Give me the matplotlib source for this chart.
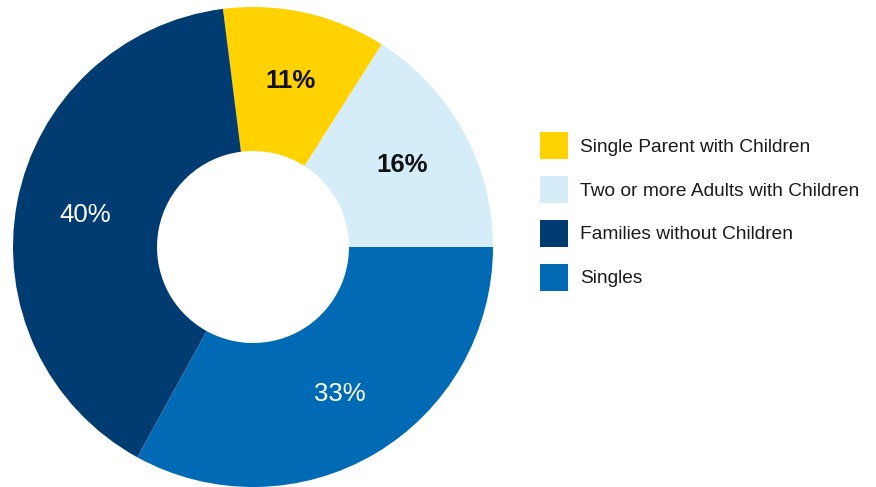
import matplotlib.pyplot as plt
from matplotlib.patches import Patch

plt.rcParams["font.family"] = ["Liberation Sans", "DejaVu Sans"]

# slices in drawing order (counter-clockwise from 3 o'clock)
categories = [
    "Two or more Adults with Children",
    "Single Parent with Children",
    "Families without Children",
    "Singles",
]
shares = [16, 11, 40, 33]
colors = ["#D4EDF9", "#FFD200", "#003B71", "#006AB5"]
label_colors = ["#111111", "#111111", "white", "white"]
label_weights = ["bold", "bold", "normal", "normal"]

# legend order as in the reference
legend_order = [
    "Single Parent with Children",
    "Two or more Adults with Children",
    "Families without Children",
    "Singles",
]

fig = plt.figure(figsize=(8.76, 4.87), dpi=100)
ax = fig.add_axes([13 / 876, 0.0, 480 / 876, 480 / 487])

wedges, texts, autotexts = ax.pie(
    shares,
    colors=colors,
    startangle=0,
    counterclock=True,
    radius=1.0,
    pctdistance=0.71,
    autopct=lambda p: f"{p:.0f}%",
    wedgeprops=dict(width=0.6, linewidth=0),
)
for t, c, w in zip(autotexts, label_colors, label_weights):
    t.set_color(c)
    t.set_fontweight(w)
    t.set_fontsize(18.5)
ax.set_aspect("equal")
ax.set_xlim(-1, 1)
ax.set_ylim(-1, 1)

handles = [Patch(facecolor=colors[categories.index(name)], edgecolor="none")
           for name in legend_order]
fig.legend(
    handles,
    legend_order,
    loc="upper left",
    bbox_to_anchor=(540 / 876, 1 - 132 / 487),
    frameon=False,
    fontsize=13.8,
    handlelength=1.46,
    handleheight=1.785,
    handletextpad=0.63,
    labelspacing=0.885,
    borderpad=0,
    borderaxespad=0,
    labelcolor="#1a1a1a",
)

fig.savefig("out.png", dpi=100)
